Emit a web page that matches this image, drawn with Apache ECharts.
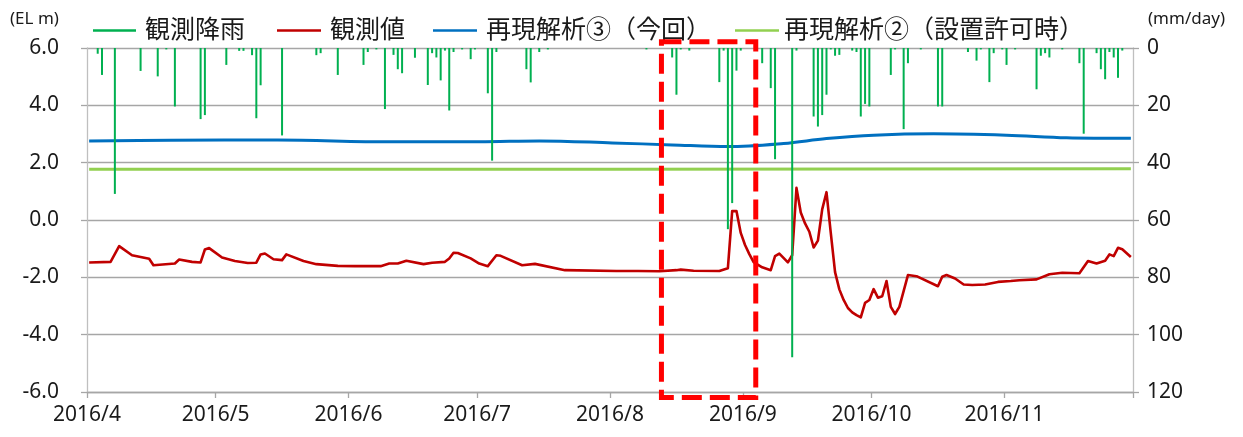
<!DOCTYPE html>
<html>
<head>
<meta charset="utf-8">
<script src="https://cdn.jsdelivr.net/npm/echarts@6/dist/echarts.min.js"></script>
<style>
  html, body { margin: 0; padding: 0; background: #fff; }
  #chart { width: 1243px; height: 437px; }
</style>
</head>
<body>
<div id="chart"></div>
<script>
// ---- data -------------------------------------------------------------
const seriesNames = ['観測降雨', '観測値', '再現解析③（今回）', '再現解析②（設置許可時）'];

const monthStarts = ['2016-04-01', '2016-05-01', '2016-06-01', '2016-07-01',
                     '2016-08-01', '2016-09-01', '2016-10-01', '2016-11-01', '2016-12-01'];
const monthLabels = ['2016/4', '2016/5', '2016/6', '2016/7',
                     '2016/8', '2016/9', '2016/10', '2016/11'];

// daily rainfall (mm/day)
const rainfall = [
  ['2016-04-03', 2.0], ['2016-04-04', 9.4], ['2016-04-07', 50.9], ['2016-04-13', 8.0],
  ['2016-04-17', 9.9], ['2016-04-19', 0.5], ['2016-04-21', 20.4], ['2016-04-27', 24.8],
  ['2016-04-28', 23.4], ['2016-05-03', 5.9], ['2016-05-06', 1.0], ['2016-05-07', 1.0],
  ['2016-05-09', 2.5], ['2016-05-10', 24.5], ['2016-05-11', 13.0], ['2016-05-16', 30.5],
  ['2016-05-24', 2.5], ['2016-05-25', 1.8], ['2016-05-29', 9.4], ['2016-06-04', 5.9],
  ['2016-06-05', 1.4], ['2016-06-07', 0.5], ['2016-06-09', 21.3], ['2016-06-11', 2.4],
  ['2016-06-12', 7.4], ['2016-06-13', 8.8], ['2016-06-16', 3.4], ['2016-06-19', 12.9],
  ['2016-06-20', 1.8], ['2016-06-21', 3.3], ['2016-06-22', 11.3], ['2016-06-23', 0.9],
  ['2016-06-24', 21.8], ['2016-06-25', 1.4], ['2016-06-27', 0.5], ['2016-06-29', 3.9],
  ['2016-06-30', 0.5], ['2016-07-03', 15.8], ['2016-07-04', 39.3], ['2016-07-05', 1.4],
  ['2016-07-12', 7.4], ['2016-07-13', 12.0], ['2016-07-15', 1.4], ['2016-07-17', 0.5],
  ['2016-08-09', 0.5], ['2016-08-15', 3.3], ['2016-08-16', 16.3], ['2016-08-17', 0.5],
  ['2016-08-19', 0.9], ['2016-08-26', 11.9], ['2016-08-27', 0.9], ['2016-08-28', 63.2],
  ['2016-08-29', 54.1], ['2016-08-30', 7.9], ['2016-08-31', 0.9], ['2016-09-05', 5.3],
  ['2016-09-07', 14.0], ['2016-09-08', 38.8], ['2016-09-12', 107.9], ['2016-09-13', 0.9],
  ['2016-09-17', 23.9], ['2016-09-18', 27.4], ['2016-09-19', 23.4], ['2016-09-20', 16.3],
  ['2016-09-21', 0.5], ['2016-09-22', 2.7], ['2016-09-23', 2.4], ['2016-09-26', 0.9],
  ['2016-09-27', 1.4], ['2016-09-28', 23.9], ['2016-09-29', 19.5], ['2016-09-30', 20.4],
  ['2016-10-05', 9.4], ['2016-10-06', 0.5], ['2016-10-08', 28.3], ['2016-10-09', 5.3],
  ['2016-10-12', 0.5], ['2016-10-16', 20.4], ['2016-10-17', 20.4], ['2016-10-23', 1.4],
  ['2016-10-25', 4.4], ['2016-10-26', 0.5], ['2016-10-28', 11.9], ['2016-10-29', 1.8],
  ['2016-10-31', 0.5], ['2016-11-01', 5.9], ['2016-11-03', 0.5], ['2016-11-08', 14.4],
  ['2016-11-09', 2.7], ['2016-11-10', 1.8], ['2016-11-11', 3.3], ['2016-11-14', 0.5],
  ['2016-11-18', 5.3], ['2016-11-19', 29.9], ['2016-11-22', 1.8], ['2016-11-23', 7.4],
  ['2016-11-24', 10.9], ['2016-11-25', 1.4], ['2016-11-26', 3.3], ['2016-11-27', 10.4],
  ['2016-11-28', 0.9]
];

// observed water level (EL m)
const observedLevel = [
  ['2016-04-01', -1.48], ['2016-04-06', -1.46], ['2016-04-08', -0.91], ['2016-04-11', -1.23],
  ['2016-04-15', -1.35], ['2016-04-16', -1.58], ['2016-04-21', -1.52], ['2016-04-22', -1.38],
  ['2016-04-25', -1.46], ['2016-04-27', -1.48], ['2016-04-28', -1.03], ['2016-04-29', -0.98],
  ['2016-05-02', -1.31], ['2016-05-05', -1.43], ['2016-05-08', -1.50], ['2016-05-10', -1.49],
  ['2016-05-11', -1.20], ['2016-05-12', -1.17], ['2016-05-14', -1.37], ['2016-05-16', -1.40],
  ['2016-05-17', -1.20], ['2016-05-21', -1.43], ['2016-05-24', -1.54], ['2016-05-29', -1.60],
  ['2016-06-02', -1.61], ['2016-06-08', -1.61], ['2016-06-10', -1.52], ['2016-06-12', -1.52],
  ['2016-06-14', -1.42], ['2016-06-18', -1.54], ['2016-06-20', -1.49], ['2016-06-23', -1.46],
  ['2016-06-24', -1.34], ['2016-06-25', -1.14], ['2016-06-26', -1.15], ['2016-06-29', -1.34],
  ['2016-07-01', -1.52], ['2016-07-03', -1.61], ['2016-07-05', -1.23], ['2016-07-06', -1.25],
  ['2016-07-11', -1.58], ['2016-07-14', -1.53], ['2016-07-21', -1.75], ['2016-08-02', -1.78],
  ['2016-08-07', -1.78], ['2016-08-12', -1.79], ['2016-08-16', -1.75], ['2016-08-17', -1.73],
  ['2016-08-20', -1.77], ['2016-08-26', -1.78], ['2016-08-28', -1.68], ['2016-08-29', 0.31],
  ['2016-08-30', 0.31], ['2016-08-31', -0.45], ['2016-09-01', -0.87], ['2016-09-02', -1.19],
  ['2016-09-03', -1.47], ['2016-09-05', -1.65], ['2016-09-07', -1.75], ['2016-09-08', -1.26],
  ['2016-09-09', -1.17], ['2016-09-11', -1.48], ['2016-09-12', -1.23], ['2016-09-13', 1.12],
  ['2016-09-14', 0.26], ['2016-09-15', -0.12], ['2016-09-16', -0.41], ['2016-09-17', -0.96],
  ['2016-09-18', -0.72], ['2016-09-19', 0.37], ['2016-09-20', 0.97], ['2016-09-21', -0.45],
  ['2016-09-22', -1.82], ['2016-09-23', -2.42], ['2016-09-24', -2.79], ['2016-09-25', -3.07],
  ['2016-09-26', -3.22], ['2016-09-27', -3.32], ['2016-09-28', -3.40], ['2016-09-29', -2.89],
  ['2016-09-30', -2.79], ['2016-10-01', -2.41], ['2016-10-02', -2.71], ['2016-10-03', -2.66],
  ['2016-10-04', -2.13], ['2016-10-05', -3.03], ['2016-10-06', -3.28], ['2016-10-07', -3.03],
  ['2016-10-09', -1.92], ['2016-10-11', -1.96], ['2016-10-16', -2.31], ['2016-10-17', -1.98],
  ['2016-10-18', -1.92], ['2016-10-20', -2.04], ['2016-10-22', -2.25], ['2016-10-24', -2.27],
  ['2016-10-27', -2.25], ['2016-10-30', -2.16], ['2016-11-02', -2.13], ['2016-11-04', -2.10],
  ['2016-11-08', -2.07], ['2016-11-11', -1.89], ['2016-11-14', -1.84], ['2016-11-18', -1.86],
  ['2016-11-20', -1.43], ['2016-11-22', -1.52], ['2016-11-24', -1.42], ['2016-11-25', -1.20],
  ['2016-11-26', -1.26], ['2016-11-27', -0.97], ['2016-11-28', -1.02], ['2016-11-30', -1.29]
];

// reanalysis ③ (this study)
const reanalysisCurrent = [
  ['2016-04-01', 2.76], ['2016-04-20', 2.78], ['2016-05-15', 2.79], ['2016-06-10', 2.73],
  ['2016-07-01', 2.73], ['2016-07-15', 2.76], ['2016-08-01', 2.69], ['2016-08-15', 2.62],
  ['2016-08-28', 2.56], ['2016-09-10', 2.67], ['2016-09-20', 2.84], ['2016-10-01', 2.96],
  ['2016-10-15', 3.01], ['2016-11-01', 2.96], ['2016-11-15', 2.87], ['2016-11-30', 2.85]
];

// reanalysis ② (at permit time)
const reanalysisPermit = [
  ['2016-04-01', 1.77], ['2016-08-01', 1.77], ['2016-11-30', 1.79]
];

// highlighted period (dashed frame)
const focusPeriod = ['2016-08-13', '2016-09-04'];
const focusLevels = [6.22, -6.19];

// ---- helpers ----------------------------------------------------------
const DAY = 24 * 3600 * 1000;
function dayStart(s) {
  const [y, m, d] = s.split('-').map(Number);
  return new Date(y, m - 1, d).getTime();
}
// daily values sit in the middle of their day slot
function dayMid(s) { return dayStart(s) + DAY / 2; }
const toPoints = rows => rows.map(([d, v]) => [dayMid(d), v]);

const monthTicks = monthStarts.map(dayStart);
const labelTicks = monthTicks.slice(0, monthLabels.length);

const FONT = '"Noto Sans", "Noto Sans CJK JP", sans-serif';
const AXIS_GREY = '#a6a6a6';
const TEXT = '#1a1a1a';

const chart = echarts.init(document.getElementById('chart'), null, { renderer: 'canvas' });

function legendAt(name, left, itemWidth, pad) {
  return {
    data: [name], left: left, top: 13, icon: 'rect',
    itemWidth: itemWidth, itemHeight: 2.5, selectedMode: false,
    textStyle: { fontFamily: FONT, fontSize: 25, color: TEXT, padding: [0, 0, 0, pad] }
  };
}

chart.setOption({
  animation: false,
  backgroundColor: '#fff',
  textStyle: { fontFamily: FONT },
  grid: { left: 87, right: 110, top: 48, bottom: 45, containLabel: false, outerBoundsMode: 'none' },
  legend: [
    legendAt(seriesNames[0], 88, 43, 4),
    legendAt(seriesNames[1], 272, 44, 4),
    legendAt(seriesNames[2], 428, 44, 4),
    legendAt(seriesNames[3], 730, 44, 0)
  ],
  graphic: [
    { type: 'text', left: 10, top: 11,
      style: { text: '(EL m)', font: '17px ' + FONT, fill: TEXT } },
    { type: 'text', right: 18, top: 11,
      style: { text: '(mm/day)', font: '17px ' + FONT, fill: TEXT } }
  ],
  xAxis: {
    type: 'value',
    min: monthTicks[0],
    max: monthTicks[monthTicks.length - 1],
    splitLine: { show: false },
    axisLine: { show: true, onZero: false, lineStyle: { color: AXIS_GREY, width: 1.3 } },
    axisTick: { show: true, length: 6, customValues: monthTicks,
                lineStyle: { color: AXIS_GREY, width: 1.3 } },
    axisLabel: {
      customValues: labelTicks,
      margin: 13,
      fontSize: 21, color: TEXT, fontFamily: FONT,
      formatter: v => {
        const i = labelTicks.indexOf(v);
        return i >= 0 ? monthLabels[i] : '';
      }
    }
  },
  yAxis: [
    {
      type: 'value', min: -6, max: 6, interval: 2,
      axisLine: { show: true, lineStyle: { color: '#bfbfbf', width: 1.3 } },
      axisTick: { show: true, length: 6, lineStyle: { color: AXIS_GREY, width: 1.3 } },
      splitLine: { show: true, lineStyle: { color: AXIS_GREY, width: 1.3 } },
      axisLabel: { margin: 28, fontSize: 21, color: TEXT, fontFamily: FONT,
                   formatter: v => v.toFixed(1) }
    },
    {
      type: 'value', min: 0, max: 120, interval: 20, inverse: true,
      axisLine: { show: true, lineStyle: { color: '#bfbfbf', width: 1.3 } },
      axisTick: { show: true, length: 6, lineStyle: { color: AXIS_GREY, width: 1.3 } },
      splitLine: { show: false },
      axisLabel: { margin: 14, fontSize: 21, color: TEXT, fontFamily: FONT }
    }
  ],
  series: [
    {
      name: seriesNames[3], type: 'line', yAxisIndex: 0, z: 2,
      data: toPoints(reanalysisPermit), symbol: 'none',
      lineStyle: { color: '#92d050', width: 3 }, itemStyle: { color: '#92d050' }
    },
    {
      name: seriesNames[2], type: 'line', yAxisIndex: 0, z: 3,
      data: toPoints(reanalysisCurrent), symbol: 'none', smooth: 0.35,
      lineStyle: { color: '#0070c0', width: 3 }, itemStyle: { color: '#0070c0' }
    },
    {
      name: seriesNames[1], type: 'line', yAxisIndex: 0, z: 4,
      data: toPoints(observedLevel), symbol: 'none',
      lineStyle: { color: '#c00000', width: 2.6, join: 'round' }, itemStyle: { color: '#c00000' }
    },
    {
      name: seriesNames[0], type: 'bar', yAxisIndex: 1, z: 5,
      data: toPoints(rainfall), barWidth: 2,
      itemStyle: { color: '#00b050' }
    },
    {
      name: 'focus', type: 'custom', yAxisIndex: 0, z: 10, clip: false, silent: true,
      dimensions: ['start', 'end', 'top', 'bottom'],
      encode: { x: [0, 1], y: [2, 3] },
      data: [[dayStart(focusPeriod[0]), dayStart(focusPeriod[1]), focusLevels[0], focusLevels[1]]],
      renderItem: (params, api) => {
        const p0 = api.coord([api.value(0), api.value(2)]);
        const p1 = api.coord([api.value(1), api.value(3)]);
        return {
          type: 'rect',
          shape: { x: p0[0], y: p0[1], width: p1[0] - p0[0], height: p1[1] - p0[1] },
          style: { fill: 'none', stroke: '#ff0000', lineWidth: 5, lineDash: [20, 8] }
        };
      }
    }
  ]
});
</script>
</body>
</html>
